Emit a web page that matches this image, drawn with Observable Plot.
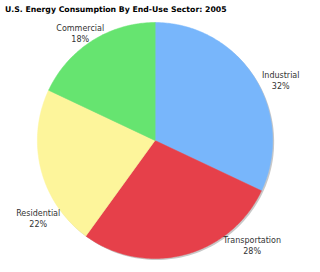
<!DOCTYPE html>
<html>
<head>
<meta charset="utf-8">
<script src="https://cdn.jsdelivr.net/npm/d3@7"></script>
<script src="https://cdn.jsdelivr.net/npm/@observablehq/plot@0.6"></script>
<style>
  html, body { margin: 0; padding: 0; background: #fff; }
  #title { font-family: "DejaVu Sans", Verdana, sans-serif; font-weight: bold; font-size: 7.75px; color: #000;
           height: 18px; line-height: 18px; padding-left: 5px; padding-top: 1px; box-sizing: border-box; white-space: nowrap; }
</style>
</head>
<body>
<div id="title">U.S. Energy Consumption By End-Use Sector: 2005</div>
<div id="chart"></div>
<script>
// Data
const sectors = ["Industrial", "Transportation", "Residential", "Commercial"];
const shares = [32, 28, 22, 18];
const colors = ["#78b6fb", "#e6404a", "#fdf59b", "#66e470"];
// Label placement (layout): polar position in pie-radius units, angle clockwise from 12 o'clock
const labelAngle = [64.2, 137.1, 236.5, 325.2];
const labelRadius = [1.187, 1.213, 1.191, 1.114];

const rad = Math.PI / 180;
const arcs = d3.pie().sort(null).value(d => d)(shares);

// Build slice outlines in unit coordinates (u right, v up)
const slicePts = [];
arcs.forEach((a, i) => {
  slicePts.push({sector: sectors[i], u: 0, v: 0});
  const n = Math.max(2, Math.ceil((a.endAngle - a.startAngle) / rad));
  for (let k = 0; k <= n; k++) {
    const t = a.startAngle + (a.endAngle - a.startAngle) * k / n;
    slicePts.push({sector: sectors[i], u: Math.sin(t), v: Math.cos(t)});
  }
});
const circlePts = d3.range(0, 361, 2).map(d => ({u: Math.sin(d * rad), v: Math.cos(d * rad)}));

const labels = sectors.map((s, i) => ({
  text: `${s}\n${shares[i]}%`,
  u: labelRadius[i] * Math.sin(labelAngle[i] * rad),
  v: labelRadius[i] * Math.cos(labelAngle[i] * rad)
}));

const plot = Plot.plot({
  width: 320,
  height: 254,
  margin: 0,
  x: {domain: [-1.3136, 1.4068], range: [0, 320], axis: null},
  y: {domain: [-1.1186, 1.0339], range: [254, 0], axis: null},
  color: {domain: sectors, range: colors},
  style: {fontFamily: "DejaVu Sans, Verdana, sans-serif", background: "#fff"},
  marks: [
    Plot.line(circlePts, {x: "u", y: "v", curve: "linear-closed", fill: "#c8c8c8", stroke: "none", dx: 1.5, dy: 1.5}),
    Plot.line(slicePts, {x: "u", y: "v", z: "sector", curve: "linear-closed", fill: "sector", stroke: "sector", strokeWidth: 0.5}),
    Plot.text(labels, {x: "u", y: "v", text: "text", fontSize: 8, fill: "#333", lineHeight: 1.375, lineAnchor: "middle", textAnchor: "middle"})
  ]
});
document.getElementById("chart").appendChild(plot);
</script>
</body>
</html>
